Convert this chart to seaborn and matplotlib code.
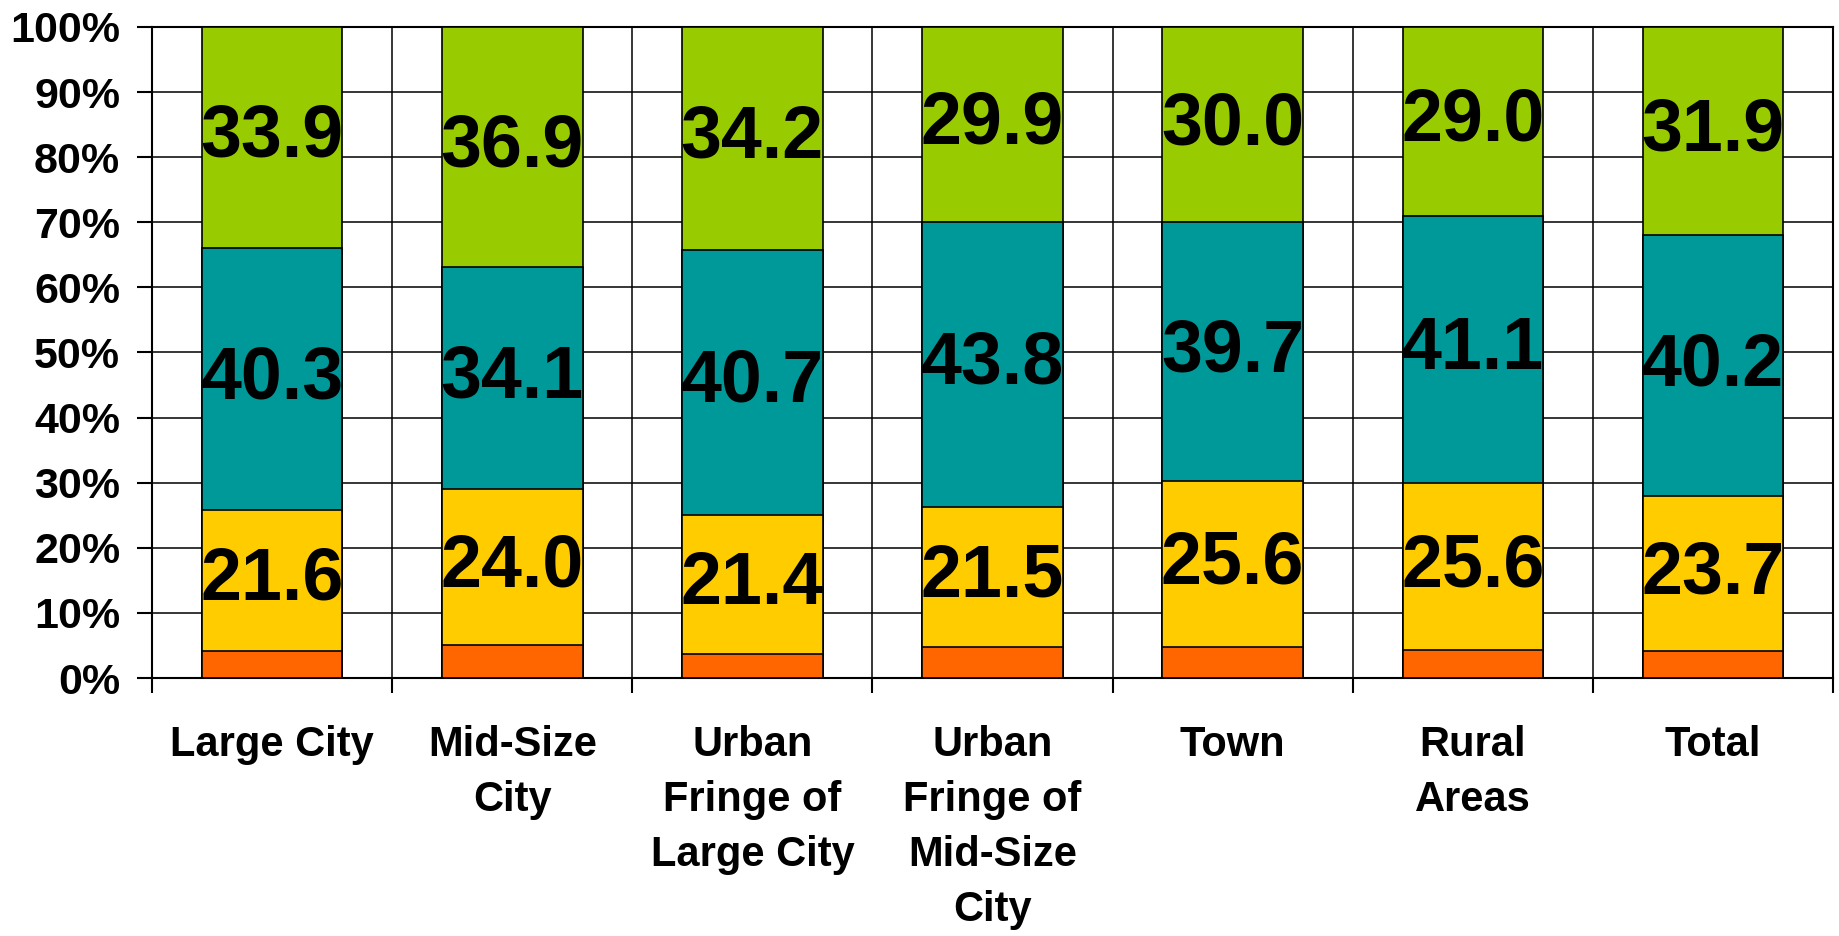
import seaborn as sns
import matplotlib.pyplot as plt
from matplotlib.ticker import FixedLocator, PercentFormatter
import numpy as np
import pandas as pd

categories = ['Large City', 'Mid-Size\nCity', 'Urban\nFringe of\nLarge City',
              'Urban\nFringe of\nMid-Size\nCity', 'Town', 'Rural\nAreas', 'Total']
orange = [4.2, 5.0, 3.7, 4.8, 4.7, 4.3, 4.2]
yellow = [21.6, 24.0, 21.4, 21.5, 25.6, 25.6, 23.7]
teal = [40.3, 34.1, 40.7, 43.8, 39.7, 41.1, 40.2]
green = [33.9, 36.9, 34.2, 29.9, 30.0, 29.0, 31.9]

layers = [orange, yellow, teal, green]
colors = ['#FF6600', '#FFCC00', '#009999', '#99CC00']
labelled = [False, True, True, True]

sns.set_style('white')
plt.rcParams['font.family'] = ['Liberation Sans', 'DejaVu Sans']
plt.rcParams['font.weight'] = 'bold'
plt.rcParams['text.color'] = 'black'
plt.rcParams['xtick.color'] = 'black'
plt.rcParams['ytick.color'] = 'black'

fig = plt.figure(figsize=(18.39, 9.36), dpi=100)
ax = fig.add_axes([0.0827, 0.2756, 0.914, 0.6956])

# stacked bars: draw cumulative totals from the top layer down
cum = np.cumsum(np.array(layers), axis=0)
for i in range(len(layers) - 1, -1, -1):
    df = pd.DataFrame({'cat': categories, 'val': cum[i]})
    sns.barplot(data=df, x='cat', y='val', color=colors[i], width=0.585,
                edgecolor='black', linewidth=1.2, saturation=1, ax=ax, zorder=3)

# value labels at the middle of each segment
for i, vals in enumerate(layers):
    if not labelled[i]:
        continue
    for j, v in enumerate(vals):
        mid = cum[i][j] - v / 2
        ax.text(j, mid, f'{v:.1f}', ha='center', va='center',
                fontsize=53, fontweight='bold', color='black', zorder=5)

ax.set_xlim(-0.5, len(categories) - 0.5)
ax.set_ylim(0, 100)
ax.yaxis.set_major_locator(FixedLocator(np.arange(0, 101, 10)))
ax.yaxis.set_major_formatter(PercentFormatter(decimals=0))
ax.xaxis.set_minor_locator(FixedLocator(np.arange(-0.5, len(categories), 1)))

ax.grid(axis='y', which='major', color='black', linewidth=1.1, zorder=0)
ax.grid(axis='x', which='minor', color='black', linewidth=1.1, zorder=0)
ax.set_axisbelow(True)

ax.tick_params(axis='y', which='major', length=11, width=1.5, direction='out',
               left=True, pad=12, labelsize=31, color='black', labelcolor='black')
ax.tick_params(axis='x', which='major', length=0, pad=34, labelsize=30,
               labelcolor='black')
ax.tick_params(axis='x', which='minor', length=11, width=1.5, direction='out',
               bottom=True, color='black')
for lab in ax.get_xticklabels():
    lab.set_verticalalignment('top')
    lab.set_linespacing(1.48)
    lab.set_fontweight('bold')
for lab in ax.get_yticklabels():
    lab.set_fontweight('bold')

for s in ax.spines.values():
    s.set_color('black')
    s.set_linewidth(1.5)
ax.set_xlabel('')
ax.set_ylabel('')

fig.savefig('out.png', dpi=100, facecolor='white')
